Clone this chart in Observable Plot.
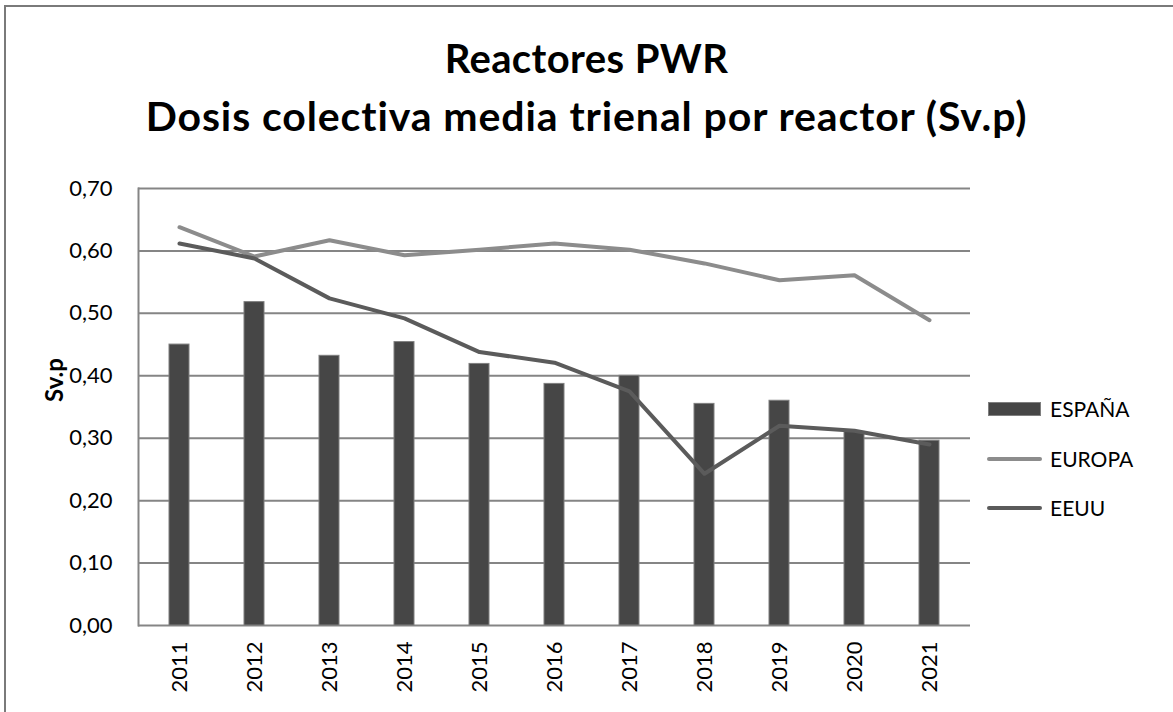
<!DOCTYPE html>
<html>
<head>
<meta charset="utf-8">
<script src="https://cdn.jsdelivr.net/npm/d3@7"></script>
<script src="https://cdn.jsdelivr.net/npm/@observablehq/plot@0.6"></script>
<style>
  html, body { margin: 0; padding: 0; background: #fff; overflow: hidden; }
  body { width: 1173px; height: 712px; position: relative; font-family: Lato, "Open Sans", sans-serif; }
  #frame { position: absolute; left: 4px; top: 5px; width: 1300px; height: 800px; border: 2px solid #7a7a7a; border-right: none; border-bottom: none; box-sizing: border-box; }
  #title { position: absolute; left: 0; top: 0; width: 1173px; text-align: center; font-weight: bold; color: #000; }
  #title .l1 { position: absolute; left: 0; width: 100%; top: 33px; font-size: 40px; line-height: 50px; letter-spacing: 0.4px; }
  #title .l2 { position: absolute; left: 0; width: 100%; top: 91px; font-size: 41px; line-height: 50px; letter-spacing: 0.9px; }
  #chart { position: absolute; left: 0; top: 170px; }
  .leg { position: absolute; font-size: 21px; color: #000; line-height: 24px; }
  .sw { position: absolute; }
</style>
</head>
<body>
<div id="frame"></div>
<div id="title"><div class="l1">Reactores PWR</div><div class="l2">Dosis colectiva media trienal por reactor (Sv.p)</div></div>
<div id="chart"></div>
<div id="legend"></div>
<script>
const years = ["2011","2012","2013","2014","2015","2016","2017","2018","2019","2020","2021"];
const espana = [0.450, 0.518, 0.432, 0.454, 0.419, 0.387, 0.400, 0.355, 0.360, 0.310, 0.296];
const europa = [0.638, 0.591, 0.617, 0.593, 0.602, 0.612, 0.602, 0.580, 0.553, 0.561, 0.489];
const eeuu   = [0.612, 0.588, 0.524, 0.492, 0.438, 0.421, 0.375, 0.243, 0.320, 0.312, 0.290];
const yTicks = [0, 0.1, 0.2, 0.3, 0.4, 0.5, 0.6, 0.7];
const seriesNames = ["ESPAÑA", "EUROPA", "EEUU"];
const seriesColors = ["#464646", "#8c8c8c", "#5b5b5b"];

const data = years.map((y, i) => ({year: y, espana: espana[i], europa: europa[i], eeuu: eeuu[i]}));
const fmt = v => d3.format(".2f")(v).replace(".", ",");

const chart = Plot.plot({
  width: 1173,
  height: 542,
  marginTop: 18,
  marginBottom: 87,
  marginLeft: 138,
  marginRight: 203,
  style: {fontFamily: "Lato, 'Open Sans', sans-serif", fontSize: "22px", color: "#000", background: "transparent"},
  x: {domain: years, paddingInner: 0.735, paddingOuter: 0.3675, label: null, tickSize: 0, tickRotate: -90, tickPadding: 16},
  y: {domain: [0, 0.7], ticks: yTicks, tickFormat: fmt, label: null, tickSize: 0, tickPadding: 26},
  marks: [
    Plot.ruleY(yTicks, {stroke: "#858585", strokeWidth: 2}),
    Plot.frame({anchor: "left", stroke: "#858585", strokeWidth: 2}),
    Plot.barY(data, {x: "year", y: "espana", fill: seriesColors[0], stroke: "#7f7f7f", strokeWidth: 1}),
    Plot.lineY(data, {x: "year", y: "europa", stroke: seriesColors[1], strokeWidth: 4}),
    Plot.lineY(data, {x: "year", y: "eeuu", stroke: seriesColors[2], strokeWidth: 4}),
    Plot.text(["Sv.p"], {frameAnchor: "left", textAnchor: "middle", rotate: -90, dx: -83, dy: -27, fontWeight: "bold", fontSize: 24, fill: "#000"})
  ]
});
document.getElementById("chart").appendChild(chart);

// Legend
const leg = document.getElementById("legend");
const legY = [409, 459, 508];
seriesNames.forEach((name, i) => {
  const sw = document.createElement("div");
  sw.className = "sw";
  if (i === 0) {
    Object.assign(sw.style, {left: "988px", top: (legY[i] - 7) + "px", width: "53px", height: "14px", background: seriesColors[i], border: "1px solid #7f7f7f", boxSizing: "border-box"});
  } else {
    Object.assign(sw.style, {left: "987px", top: (legY[i] - 2) + "px", width: "55px", height: "4px", background: seriesColors[i], borderRadius: "2px"});
  }
  leg.appendChild(sw);
  const t = document.createElement("div");
  t.className = "leg";
  t.textContent = name;
  Object.assign(t.style, {left: "1050px", top: (legY[i] - 12) + "px"});
  leg.appendChild(t);
});
</script>
</body>
</html>
